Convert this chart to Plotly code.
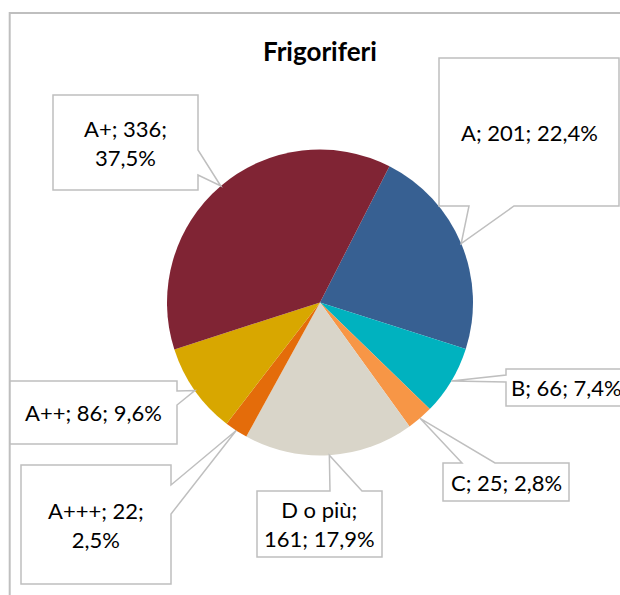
import math
import plotly.graph_objects as go

# ---- data ----
categories = ["A", "B", "C", "D o più", "A+++", "A++", "A+"]
values = [201, 66, 25, 161, 22, 86, 336]
colors = ["#376092", "#00B2BF", "#F79646", "#D9D5C9", "#E46C0A", "#D8A700", "#802434"]
title_text = "Frigoriferi"
# where each label wraps (style): None = single line, 1 = after name, 2 = after value
label_breaks = [None, None, None, 1, 2, None, 2]

# ---- layout (pixel geometry) ----
W, H = 620, 595
CX, CY, R = 320.0, 302.5, 153.0
ROTATION = 27.0
FONT = "Lato"
GRAY = "#BFBFBF"

# callout boxes: (x0, y0, x1, y1, side, base0, base1)
boxes = [
    (439, 58, 619, 206, "bottom", 469, 514),   # A
    (506, 369, 630, 406, "left", 375, 382),    # B
    (443, 463, 569, 501, "top", 462, 495),     # C
    (257, 491, 382, 557, "top", 330, 362),     # D o più
    (21, 465, 171, 584, "right", 485, 514),    # A+++
    (10, 381, 177, 444, "right", 391, 405),    # A++
    (53, 95, 198, 190, "right", 150, 175),     # A+
]
text_centers = [(529, 132), (566, 387), (506, 482), (319.5, 524), (96, 524.5), (93.5, 412.5), (125.5, 142.5)]

total = sum(values)


def fmt_pct(v):
    return f"{v / total * 100:.1f}".replace(".", ",") + "%"


def label_text(name, v, brk):
    parts = [name, str(v), fmt_pct(v)]
    if brk is None:
        return "; ".join(parts)
    if brk == 1:
        return parts[0] + ";<br>" + parts[1] + "; " + parts[2]
    return parts[0] + "; " + parts[1] + ";<br>" + parts[2]


def callout_path(box, tip):
    x0, y0, x1, y1, side, b0, b1 = box
    tx, ty = tip
    pts = [(x0, y0)]
    if side == "top":
        pts += [(b0, y0), (tx, ty), (b1, y0)]
    pts.append((x1, y0))
    if side == "right":
        pts += [(x1, b0), (tx, ty), (x1, b1)]
    pts.append((x1, y1))
    if side == "bottom":
        pts += [(b1, y1), (tx, ty), (b0, y1)]
    pts.append((x0, y1))
    if side == "left":
        pts += [(x0, b1), (tx, ty), (x0, b0)]
    return "M " + " L ".join(f"{x:.2f},{y:.2f}" for x, y in pts) + " Z"


fig = go.Figure()

fig.add_trace(go.Pie(
    labels=categories,
    values=values,
    sort=False,
    direction="clockwise",
    rotation=ROTATION,
    marker=dict(colors=colors, line=dict(width=0)),
    textinfo="none",
    hoverinfo="label+value+percent",
    showlegend=False,
    domain=dict(x=[(CX - R) / W, (CX + R) / W],
                y=[(H - CY - R) / H, (H - CY + R) / H]),
))

# invisible pixel-scaled axes for shapes / annotations
fig.add_trace(go.Scatter(x=[0, W], y=[0, H], mode="markers",
                         marker=dict(opacity=0), hoverinfo="skip", showlegend=False))

shapes = []
# chart frame
shapes.append(dict(type="rect", xref="x", yref="y", x0=9.7, y0=13, x1=W + 20, y1=H + 20,
                   line=dict(color=GRAY, width=2), fillcolor="rgba(0,0,0,0)", layer="below"))

annotations = []
cum = 0.0
for i, v in enumerate(values):
    mid = ROTATION + 360.0 * (cum + v / 2.0) / total
    cum += v
    th = math.radians(mid)
    tip = (CX + R * math.sin(th), CY - R * math.cos(th))
    shapes.append(dict(type="path", xref="x", yref="y", path=callout_path(boxes[i], tip),
                       line=dict(color=GRAY, width=1.5), fillcolor="white", layer="above"))
    tx, ty = text_centers[i]
    annotations.append(dict(x=tx, y=ty, xref="x", yref="y", showarrow=False,
                            text=label_text(categories[i], v, label_breaks[i]),
                            font=dict(family=FONT, size=22, color="#000000"),
                            xanchor="center", yanchor="middle", align="center"))

annotations.append(dict(x=320, y=51, xref="x", yref="y", showarrow=False,
                        text="<b>" + title_text + "</b>",
                        font=dict(family=FONT, size=26, color="#000000"),
                        xanchor="center", yanchor="middle"))

fig.update_layout(
    width=W, height=H,
    margin=dict(l=0, r=0, t=0, b=0),
    paper_bgcolor="white", plot_bgcolor="rgba(0,0,0,0)",
    xaxis=dict(range=[0, W], visible=False, fixedrange=True),
    yaxis=dict(range=[H, 0], visible=False, fixedrange=True),
    shapes=shapes, annotations=annotations,
    showlegend=False,
)

fig.write_html("out.html", config={"displayModeBar": False},
               post_script="document.body.style.margin='0';")
